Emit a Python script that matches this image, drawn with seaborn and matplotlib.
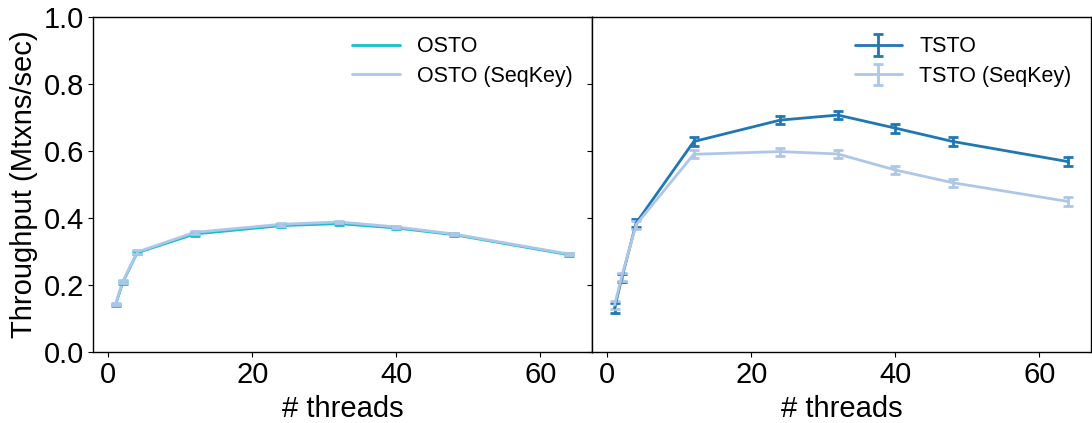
import matplotlib
matplotlib.use("Agg")
import matplotlib.pyplot as plt
import seaborn as sns
import pandas as pd
import numpy as np

threads = [1, 2, 4, 12, 24, 32, 40, 48, 64]

osto = [0.140, 0.207, 0.296, 0.352, 0.377, 0.383, 0.370, 0.350, 0.290]
osto_err = [0.004, 0.005, 0.005, 0.005, 0.004, 0.004, 0.004, 0.004, 0.004]
osto_seq = [0.143, 0.210, 0.298, 0.357, 0.381, 0.388, 0.373, 0.352, 0.292]
osto_seq_err = [0.004, 0.005, 0.005, 0.005, 0.004, 0.004, 0.004, 0.004, 0.004]

tsto = [0.131, 0.220, 0.385, 0.628, 0.692, 0.707, 0.668, 0.628, 0.568]
tsto_err = [0.015, 0.012, 0.012, 0.013, 0.013, 0.013, 0.013, 0.013, 0.013]
tsto_seq = [0.140, 0.225, 0.380, 0.590, 0.598, 0.591, 0.543, 0.505, 0.449]
tsto_seq_err = [0.012, 0.012, 0.012, 0.012, 0.012, 0.012, 0.012, 0.012, 0.012]

labels_left = ["OSTO", "OSTO (SeqKey)"]
labels_right = ["TSTO", "TSTO (SeqKey)"]
col_osto = "#17becf"
col_seq = "#aec7e8"
col_tsto = "#1f77b4"

sns.set_theme(style="ticks")
plt.rcParams["font.family"] = ["Liberation Sans", "DejaVu Sans"]
plt.rcParams.update({
    "text.color": "black", "axes.labelcolor": "black",
    "xtick.color": "black", "ytick.color": "black",
    "xtick.major.size": 3.5, "ytick.major.size": 3.5,
    "xtick.major.width": 0.8, "ytick.major.width": 0.8,
})

fig, (ax1, ax2) = plt.subplots(1, 2, sharey=True, figsize=(10.92, 4.23), dpi=100)
fig.subplots_adjust(left=0.085, right=0.999, bottom=0.168, top=0.96, wspace=0)

df_left = pd.DataFrame({
    "threads": threads * 2,
    "tput": osto + osto_seq,
    "series": [labels_left[0]] * len(threads) + [labels_left[1]] * len(threads),
})
sns.lineplot(data=df_left, x="threads", y="tput", hue="series",
             palette=[col_osto, col_seq], linewidth=2, ax=ax1)
ax1.errorbar(threads, osto, yerr=osto_err, fmt="none", ecolor=col_osto,
             capsize=3.5, capthick=2, elinewidth=2)
ax1.errorbar(threads, osto_seq, yerr=osto_seq_err, fmt="none", ecolor=col_seq,
             capsize=3.5, capthick=2, elinewidth=2)

ax2.errorbar(threads, tsto, yerr=tsto_err, color=col_tsto, lw=2,
             capsize=3.5, capthick=2, elinewidth=2, label=labels_right[0])
ax2.errorbar(threads, tsto_seq, yerr=tsto_seq_err, color=col_seq, lw=2,
             capsize=3.5, capthick=2, elinewidth=2, label=labels_right[1])

for ax in (ax1, ax2):
    ax.set_ylim(0, 1.0)
    ax.set_xticks([0, 20, 40, 60])
    ax.set_xlabel("# threads", fontsize=21, labelpad=4)
    ax.tick_params(labelsize=21, pad=3)
    for s in ax.spines.values():
        s.set_color("black")
        s.set_linewidth(1.0)
    ax.legend(frameon=False, fontsize=15.5, loc="upper right",
              bbox_to_anchor=(1.0, 1.0), handlelength=2.2, labelspacing=0.4)

ax1.set_yticks([0.0, 0.2, 0.4, 0.6, 0.8, 1.0])
ax1.set_ylabel("Throughput (Mtxns/sec)", fontsize=21, labelpad=4)
ax2.set_ylabel("")
ax2.tick_params(labelleft=False)

fig.savefig("out.png", dpi=100)
